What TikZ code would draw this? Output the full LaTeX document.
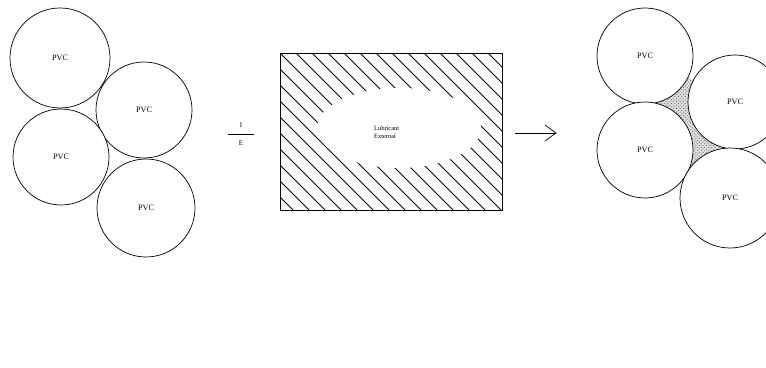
\documentclass[tikz,border=0pt]{standalone}
\usepackage{fontspec}
\setmainfont{Liberation Serif}
\usetikzlibrary{patterns}
\begin{document}
\begin{tikzpicture}[x=0.03cm,y=-0.03cm,
  pvc/.style={circle,draw=black,line width=0.6pt,fill=white,minimum size=#1*0.06cm,inner sep=0pt,font=\fontsize{7}{8}\selectfont},
  hatch/.style={line width=0.7pt},
  gap/.style={fill=gray!20,pattern=crosshatch dots,pattern color=gray!80!black}]
\useasboundingbox (0,0) rectangle (766,367);
% left group
\node[pvc=50] (c1) at (60,58) {PVC};
\node[pvc=48] (c2) at (144,110) {PVC};
\node[pvc=48] (c3) at (61,157) {PVC};
\node[pvc=49] (c4) at (146,208) {PVC};
% fraction
\node[font=\fontsize{6}{7}\selectfont] (fi) at (241,125) {I};
\node[font=\fontsize{6}{7}\selectfont] (fe) at (241,143) {E};
\draw[line width=0.6pt] (228,134) -- (254,134);
% rectangle with hatching
\coordinate (rtl) at (280,53);
\coordinate (rbr) at (502,210);
\begin{scope}
\clip (rtl) rectangle (rbr);
\foreach \i in {-160,-144,...,230} {
  \draw[hatch] (280+\i,53) -- (437+\i,210);
}
\fill[white] (399,128) ellipse [x radius=82, y radius=40];
\end{scope}
\draw[line width=0.8pt] (rtl) rectangle (rbr);
\node[font=\fontsize{5.5}{6.5}\selectfont,align=left,anchor=west] (lub) at (370,132) {Lubricant\\External};
% arrow
\coordinate (a1) at (515,133);
\coordinate (a2) at (556,133);
\draw[line width=0.6pt] (a1) -- (a2);
\draw[line width=0.6pt] (545,125) -- (556,133) -- (545,141);
% right group
\fill[gray!25] (645,56) -- (735,102) -- (645,150) -- cycle;
\fill[gray!25] (645,150) -- (735,102) -- (730,198) -- cycle;
\fill[gap] (645,56) -- (735,102) -- (645,150) -- cycle;
\fill[gap] (645,150) -- (735,102) -- (730,198) -- cycle;
\node[pvc=48] (r1) at (645,56) {PVC};
\node[pvc=47] (r2) at (735,102) {PVC};
\node[pvc=48] (r3) at (645,150) {PVC};
\node[pvc=50] (r4) at (730,198) {PVC};
\end{tikzpicture}
\end{document}
